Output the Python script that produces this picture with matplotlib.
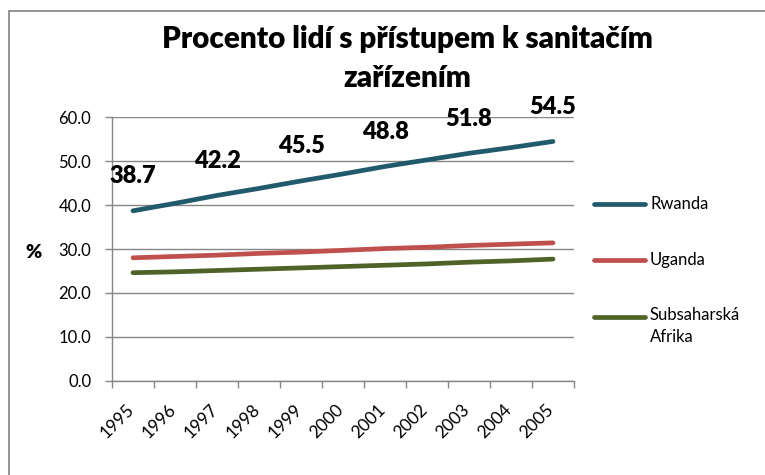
import matplotlib
matplotlib.use("Agg")
import matplotlib.pyplot as plt
import matplotlib.transforms as mtransforms
from matplotlib.lines import Line2D
from matplotlib.patches import Rectangle

plt.rcParams['font.family'] = ['Lato', 'DejaVu Sans']

years = ['1995', '1996', '1997', '1998', '1999', '2000', '2001', '2002', '2003', '2004', '2005']
series_names = ['Rwanda', 'Uganda', 'Subsaharská\nAfrika']
rwanda = [38.7, 40.4, 42.2, 43.8, 45.5, 47.1, 48.8, 50.3, 51.8, 53.1, 54.5]
uganda = [28.0, 28.3, 28.6, 29.0, 29.3, 29.7, 30.1, 30.4, 30.8, 31.1, 31.4]
ssa = [24.6, 24.8, 25.1, 25.4, 25.7, 26.0, 26.3, 26.6, 27.0, 27.3, 27.7]
colors = ['#215A6C', '#C0504D', '#4F6228']
title = 'Procento lidí s přístupem k sanitačím\nzařízením'
ylabel = '%'

W, H = 765, 475
fig = plt.figure(figsize=(W / 100, H / 100), dpi=100)

def fx(x):
    return x / W

def fy(y):
    return 1 - y / H

# plot area in pixels
L, R, T, B = 112, 574, 117.3, 380.7
ax = fig.add_axes([fx(L), fy(B), fx(R - L), (B - T) / H])

grid_c = '#868686'
x = list(range(len(years)))
for vals, c in zip([rwanda, uganda, ssa], colors):
    ax.plot(x, vals, color=c, lw=3.4, solid_capstyle='round', zorder=3)

# data labels on Rwanda every other year
for i in range(0, len(years), 2):
    ax.annotate(f'{rwanda[i]:.1f}', (x[i], rwanda[i]), xytext=(0, 25),
                textcoords='offset points', ha='center', va='center',
                fontsize=17, fontweight='heavy', color='black', zorder=4,
                annotation_clip=False)

ax.set_xlim(-0.5, len(years) - 0.5)
ax.set_ylim(0, 60)
ax.set_yticks(range(0, 61, 10))
ax.set_yticklabels([f'{v:.1f}' for v in range(0, 61, 10)])
ax.yaxis.grid(True, color=grid_c, lw=1.0)
ax.set_axisbelow(True)

ax.set_xticks([i - 0.5 for i in range(len(years) + 1)])
ax.set_xticklabels([])
ax.set_xticks(x, minor=True)
ax.set_xticklabels(years, minor=True, rotation=45, ha='right', va='top', fontsize=12.5)
ax.tick_params(axis='x', which='minor', length=0, pad=15)
ax.tick_params(axis='x', which='major', length=5, width=1, color=grid_c, direction='out')
ax.tick_params(axis='y', length=5, width=1, color=grid_c, direction='out', labelsize=12, pad=10)

offset = mtransforms.ScaledTranslation(4 / 100, 0, fig.dpi_scale_trans)
for lbl in ax.xaxis.get_minorticklabels():
    lbl.set_transform(lbl.get_transform() + offset)

for s in ['top', 'right']:
    ax.spines[s].set_visible(False)
ax.spines['left'].set_color(grid_c)
ax.spines['bottom'].set_color(grid_c)
ax.spines['left'].set_linewidth(1)
ax.spines['bottom'].set_linewidth(1)

# title
lines = title.split('\n')
fig.text(fx(407), fy(48), lines[0], ha='center', va='baseline', fontsize=21.3, fontweight='heavy')
fig.text(fx(407), fy(87), lines[1], ha='center', va='baseline', fontsize=21.3, fontweight='heavy')

# y label
fig.text(fx(33), fy(252), ylabel, ha='center', va='center', fontsize=14, fontweight='heavy')

# legend
leg_y = [204, 260, 317]
for name, c, yy in zip(series_names, colors, leg_y):
    fig.add_artist(Line2D([fx(594), fx(645)], [fy(yy), fy(yy)], color=c, lw=3.4,
                          solid_capstyle='round', transform=fig.transFigure))
    if '\n' in name:
        fig.text(fx(650), fy(yy - 10), name, ha='left', va='top', fontsize=12,
                 linespacing=1.5)
    else:
        fig.text(fx(650), fy(yy), name, ha='left', va='center', fontsize=12)

# chart border
fig.add_artist(Rectangle((fx(9), fy(H + 20)), fx(W + 20), (H + 9) / H, fill=False,
                         edgecolor='#8C8C8C', lw=1.3, transform=fig.transFigure))

fig.savefig('out.png', dpi=100)
